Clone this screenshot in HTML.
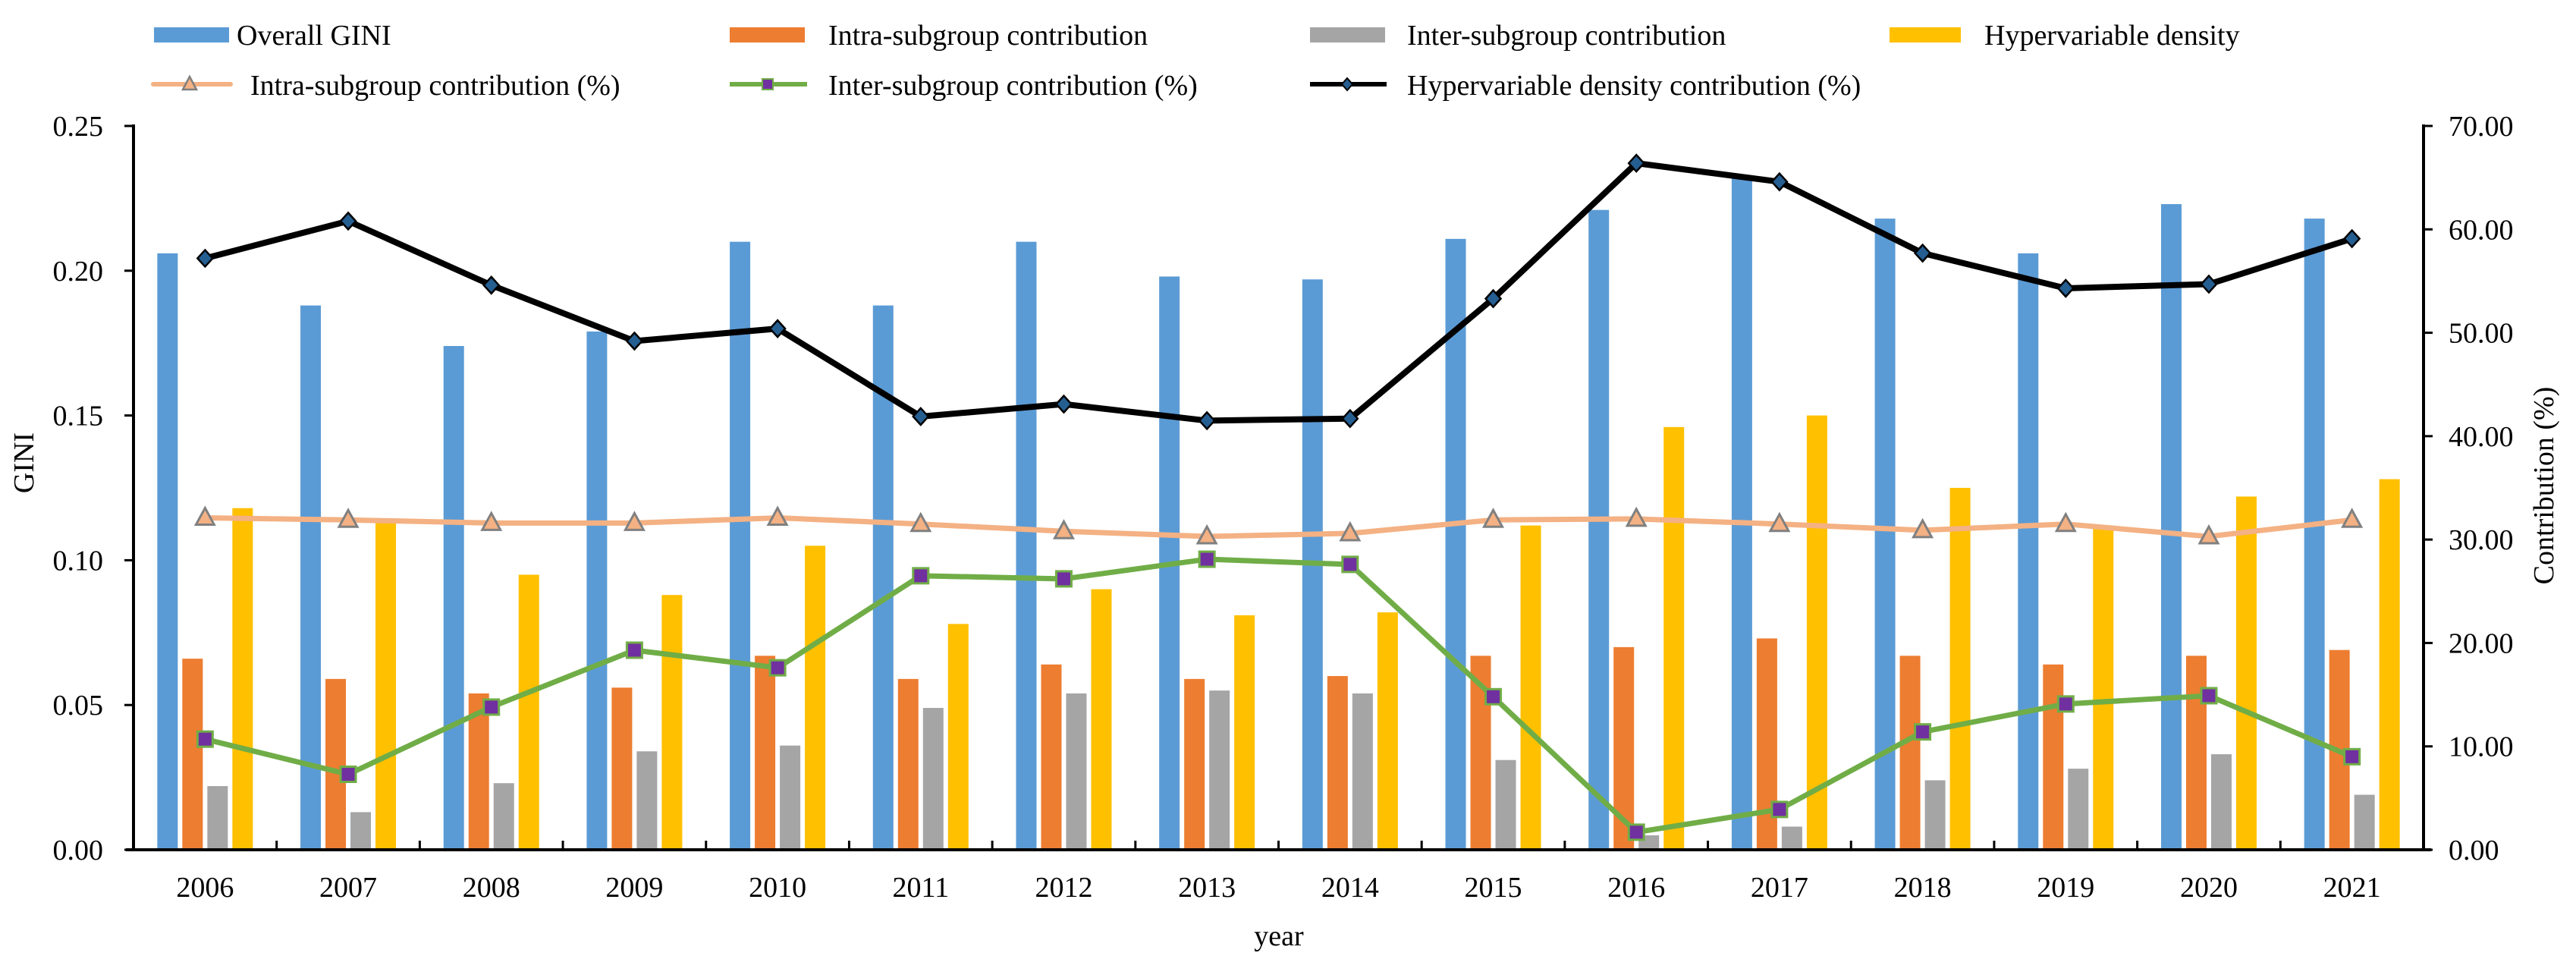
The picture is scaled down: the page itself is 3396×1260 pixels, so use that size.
<!DOCTYPE html>
<html><head><meta charset="utf-8"><style>
html,body{margin:0;padding:0;background:#fff;}
svg{display:block;font-family:"Liberation Serif",serif;}
</style></head><body>
<svg id="chart" width="3396" height="1260" viewBox="0 0 3396 1260" xmlns="http://www.w3.org/2000/svg">
<g id="legend" font-size="38" fill="#000">
 <g><rect x="203" y="36" width="99" height="20" fill="#5B9BD5"/><text x="312" y="59">Overall GINI</text></g>
 <g><rect x="962" y="36" width="99" height="20" fill="#ED7D31"/><text x="1092" y="59">Intra-subgroup contribution</text></g>
 <g><rect x="1727" y="36" width="99" height="20" fill="#A5A5A5"/><text x="1855" y="59">Inter-subgroup contribution</text></g>
 <g><rect x="2491" y="36" width="94" height="20" fill="#FFC000"/><text x="2616" y="59">Hypervariable density</text></g>
 <g><line x1="202" y1="111" x2="304" y2="111" stroke="#F4B183" stroke-width="6" stroke-linecap="round"/><path d="M250,101 L259,118 L241,118 Z" fill="#F4B183" stroke="#7f7f7f" stroke-width="2.5"/><text x="330" y="125">Intra-subgroup contribution (%)</text></g>
 <g><line x1="962" y1="111" x2="1064" y2="111" stroke="#70AD47" stroke-width="6"/><rect x="1005" y="104" width="14" height="14" fill="#7030A0" stroke="#70AD47" stroke-width="2"/><text x="1092" y="125">Inter-subgroup contribution (%)</text></g>
 <g><line x1="1727" y1="111" x2="1828" y2="111" stroke="#000" stroke-width="6"/><path d="M1776,103 L1783,111 L1776,119 L1769,111 Z" fill="#255E91" stroke="#000" stroke-width="2"/><text x="1855" y="125">Hypervariable density contribution (%)</text></g>
</g>
<g id="bars"></g>
<g id="axes"></g>
<g id="lines"></g>
<text x="44" y="610" font-size="38" text-anchor="middle" transform="rotate(-90 44 610)">GINI</text>
<text x="3366" y="640" font-size="38" text-anchor="middle" transform="rotate(-90 3366 640)">Contribution (%)</text>
<text x="1686" y="1246" font-size="38" text-anchor="middle">year</text>
</svg>
<script>
const years = ["2006","2007","2008","2009","2010","2011","2012","2013","2014","2015","2016","2017","2018","2019","2020","2021"];
const overallGini = [0.206,0.188,0.174,0.179,0.210,0.188,0.210,0.198,0.197,0.211,0.221,0.233,0.218,0.206,0.223,0.218];
const intraContribution = [0.066,0.059,0.054,0.056,0.067,0.059,0.064,0.059,0.060,0.067,0.070,0.073,0.067,0.064,0.067,0.069];
const interContribution = [0.022,0.013,0.023,0.034,0.036,0.049,0.054,0.055,0.054,0.031,0.005,0.008,0.024,0.028,0.033,0.019];
const hyperDensity = [0.118,0.113,0.095,0.088,0.105,0.078,0.090,0.081,0.082,0.112,0.146,0.150,0.125,0.112,0.122,0.128];
const intraPct = [32.1,31.9,31.6,31.6,32.1,31.5,30.8,30.3,30.6,31.9,32.0,31.5,30.9,31.5,30.3,31.9];
const interPct = [10.7,7.3,13.8,19.3,17.6,26.5,26.2,28.1,27.6,14.8,1.7,3.9,11.4,14.1,14.9,9.0];
const hyperPct = [57.2,60.8,54.6,49.2,50.4,41.9,43.1,41.5,41.7,53.3,66.4,64.6,57.7,54.3,54.7,59.1];
const leftTicks = ["0.00","0.05","0.10","0.15","0.20","0.25"];
const rightTicks = ["0.00","10.00","20.00","30.00","40.00","50.00","60.00","70.00"];

const NS="http://www.w3.org/2000/svg";
const X0=176, X1=3195, Y0=1120, YT=166;
const catW=(X1-X0)/years.length;
const xc=i=>X0+catW*(i+0.5);
const yL=v=>Y0-(v/0.25)*(Y0-YT);
const yR=v=>Y0-(v/70)*(Y0-YT);
function mk(tag,attrs,parent){const e=document.createElementNS(NS,tag);for(const k in attrs)e.setAttribute(k,attrs[k]);parent.appendChild(e);return e;}

const bars=document.getElementById('bars');
const series=[[overallGini,"#5B9BD5","overall-gini"],[intraContribution,"#ED7D31","intra"],[interContribution,"#A5A5A5","inter"],[hyperDensity,"#FFC000","hyper"]];
series.forEach((s,si)=>{
  s[0].forEach((v,i)=>{
    const cx=xc(i)+(si-1.5)*33;
    const r=mk('rect',{x:cx-13.5,y:yL(v),width:27,height:Y0-yL(v),fill:s[1]},bars);
    
    
  });
});

const axes=document.getElementById('axes');
let a=mk('line',{x1:X0,y1:YT-2,x2:X0,y2:Y0+2,stroke:"#000","stroke-width":4},axes);


a=mk('line',{x1:X1,y1:YT-2,x2:X1,y2:Y0+2,stroke:"#000","stroke-width":4},axes);


a=mk('line',{x1:X0-10,y1:Y0,x2:X1+10,y2:Y0,stroke:"#000","stroke-width":4},axes);


leftTicks.forEach(t=>{
  const y=yL(parseFloat(t));
  mk('line',{x1:X0-12,y1:y,x2:X0,y2:y,stroke:"#000","stroke-width":3},axes);
  const tx=mk('text',{x:136,y:y+13,"font-size":38,"text-anchor":"end"},axes);
  tx.textContent=t;
  
  
});
rightTicks.forEach(t=>{
  const y=yR(parseFloat(t));
  mk('line',{x1:X1,y1:y,x2:X1+12,y2:y,stroke:"#000","stroke-width":3},axes);
  const tx=mk('text',{x:3228,y:y+13,"font-size":38},axes);
  tx.textContent=t;
  
  
});
years.forEach((yr,i)=>{
  if(i>0) mk('line',{x1:X0+catW*i,y1:Y0-12,x2:X0+catW*i,y2:Y0,stroke:"#000","stroke-width":3},axes);
  const tx=mk('text',{x:xc(i),y:1182,"font-size":38,"text-anchor":"middle"},axes);
  tx.textContent=yr;
  
  
});

const lines=document.getElementById('lines');
function drawLine(vals,color,w,name,marker){
  const pts=vals.map((v,i)=>[xc(i),yR(v)]);
  const pl=mk('polyline',{points:pts.map(p=>p.join(',')).join(' '),fill:"none",stroke:color,"stroke-width":w,"stroke-linejoin":"round"},lines);
  
  
  pts.forEach((p,i)=>{
    const [x,y]=p;let m;
    if(marker==='tri') m=mk('path',{d:`M${x},${y-13} L${x+12},${y+9} L${x-12},${y+9} Z`,fill:"#F4B183",stroke:"#808080","stroke-width":3},lines);
    else if(marker==='sq') m=mk('rect',{x:x-10,y:y-10,width:20,height:20,fill:"#7030A0",stroke:"#70AD47","stroke-width":3},lines);
    else m=mk('path',{d:`M${x},${y-11} L${x+10},${y} L${x},${y+11} L${x-10},${y} Z`,fill:"#255E91",stroke:"#000","stroke-width":2.5},lines);
    
    
  });
}
drawLine(intraPct,"#F4B183",7,"intra-pct","tri");
drawLine(interPct,"#70AD47",7,"inter-pct","sq");
drawLine(hyperPct,"#000",8,"hyper-pct","dia");
</script>
</body></html>
